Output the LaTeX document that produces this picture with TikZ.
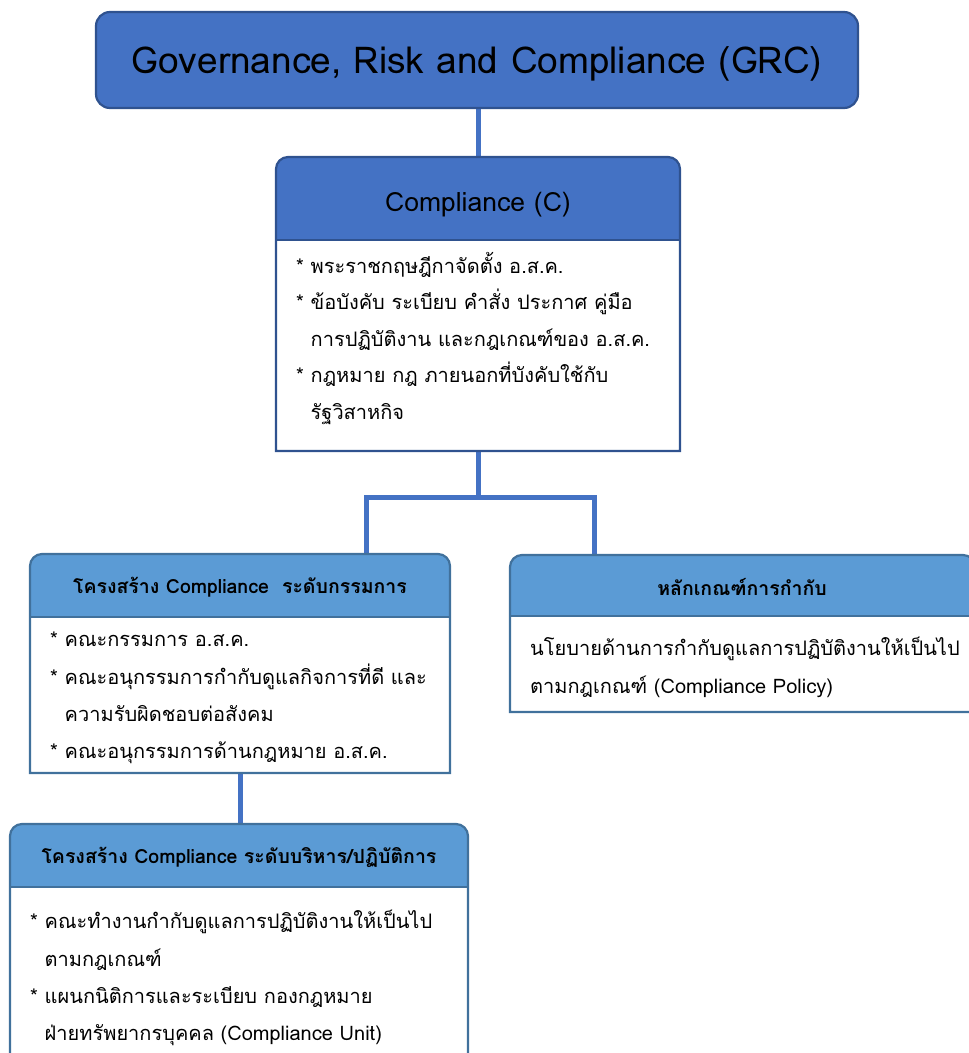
\documentclass[tikz,border=0pt]{standalone}
\usepackage{fontspec}
\setmainfont[Script=Thai]{Loma}
\definecolor{dblue}{HTML}{4472C4}
\definecolor{dborder}{HTML}{2F528F}
\definecolor{lblue}{HTML}{5B9BD5}
\definecolor{lborder}{HTML}{41719C}
\newcommand\tabbox[7]{%
 \fill[white] (#1,-#4) rectangle (#3,-#5);
 \fill[#6] (#1,-#4) -- (#1,-#2-12) arc[start angle=180,end angle=90,radius=12pt] -- (#3-12,-#2) arc[start angle=90,end angle=0,radius=12pt] -- (#3,-#4) -- cycle;
 \draw[#7,line width=2.2pt] (#1,-#5) -- (#1,-#2-12) arc[start angle=180,end angle=90,radius=12pt] -- (#3-12,-#2) arc[start angle=90,end angle=0,radius=12pt] -- (#3,-#5) -- cycle;
 \draw[#7,line width=2.2pt] (#1,-#4) -- (#3,-#4);
}
\tikzset{
 conn/.style={draw=dblue,line width=5pt},
 frame/.style={inner sep=0pt,outer sep=0pt},
 title/.style={font=\fontsize{37}{40}\selectfont,text=black},
 head/.style={font=\fontsize{26.5}{30}\selectfont,text=black},
 subhead/.style={font=\bfseries\fontsize{19.5}{22}\selectfont,text=black},
 body/.style={font=\fontsize{20}{36.5}\selectfont,text=black,align=left,anchor=north west,inner sep=0pt},
 bodyb/.style={body,font=\fontsize{20}{37.3}\selectfont},
}
\begin{document}
\begin{tikzpicture}[x=1pt,y=1pt]
\useasboundingbox (0,0) rectangle (969,-1053);
% box frames (named)
\node[frame,minimum width=762pt,minimum height=96pt] (grc) at (477,-60) {};
\node[frame,minimum width=404pt,minimum height=294pt] (comp) at (478,-304) {};
\node[frame,minimum width=420pt,minimum height=219pt] (lb1) at (240,-663.5) {};
\node[frame,minimum width=465pt,minimum height=157pt] (rb) at (742.5,-633.5) {};
\node[frame,minimum width=458pt,minimum height=236pt] (lb2) at (239,-942) {};
% connectors
\coordinate (jl) at (366,-497);
\coordinate (jr) at (594,-497);
\draw[conn] (comp.north) -- (comp.north |- grc.south);
\draw[conn] (comp.south) -- (comp.south |- jl);
\draw[conn,line cap=rect] (jl) -- (jr);
\draw[conn] (jl) -- (jl |- lb1.north);
\draw[conn] (jr) -- (jr |- rb.north);
\draw[conn] (lb1.south) -- (lb1.south |- lb2.north);
% boxes
\draw[fill=dblue,draw=dborder,line width=2.2pt,rounded corners=14pt] (96,-12) rectangle (858,-108);
\tabbox{276}{157}{680}{240}{451}{dblue}{dborder}
\tabbox{30}{554}{450}{617}{773}{lblue}{lborder}
\tabbox{510}{555}{975}{616}{712}{lblue}{lborder}
\tabbox{10}{824}{468}{887}{1060}{lblue}{lborder}
% texts
\node[title] (t0) at (477,-64) {Governance, Risk and Compliance (GRC)};
\node[head] (t1) at (478,-205) {Compliance (C)};
\node[body] (b1) at (296,-252) {* พระราชกฤษฎีกาจัดตั้ง อ.ส.ค.\\
* ข้อบังคับ ระเบียบ คำสั่ง ประกาศ คู่มือ\\
\phantom{* }การปฏิบัติงาน และกฎเกณฑ์ของ อ.ส.ค.\\
* กฎหมาย กฎ ภายนอกที่บังคับใช้กับ\\
\phantom{* }รัฐวิสาหกิจ};
\node[subhead] (t2) at (240,-587) {โครงสร้าง Compliance\ \ ระดับกรรมการ};
\node[bodyb] (b2) at (50,-632) {* คณะกรรมการ อ.ส.ค.\\
* คณะอนุกรรมการกำกับดูแลกิจการที่ดี และ\\
\phantom{* }ความรับผิดชอบต่อสังคม\\
* คณะอนุกรรมการด้านกฎหมาย อ.ส.ค.};
\node[subhead] (t3) at (742,-587) {หลักเกณฑ์การกำกับ};
\node[bodyb] (b3) at (530,-637) {นโยบายด้านการกำกับดูแลการปฏิบัติงานให้เป็นไป\\
ตามกฎเกณฑ์ (Compliance Policy)};
\node[subhead] (t4) at (239,-857) {โครงสร้าง Compliance ระดับบริหาร/ปฏิบัติการ};
\node[bodyb] (b4) at (30,-910) {* คณะทำงานกำกับดูแลการปฏิบัติงานให้เป็นไป\\
\phantom{* }ตามกฎเกณฑ์\\
* แผนกนิติการและระเบียบ กองกฎหมาย\\
\phantom{* }ฝ่ายทรัพยากรบุคคล (Compliance Unit)};
\end{tikzpicture}
\end{document}
